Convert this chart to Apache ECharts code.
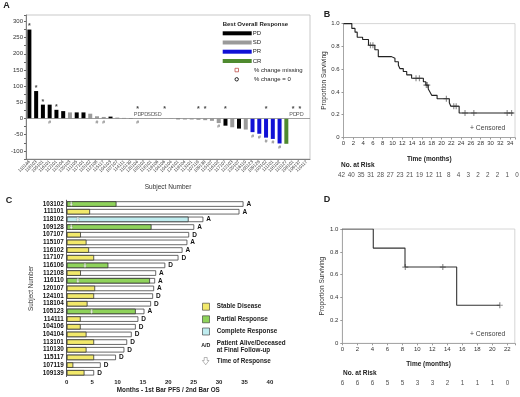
<!DOCTYPE html>
<html>
<head>
<meta charset="utf-8">
<script src="https://cdn.jsdelivr.net/npm/echarts@6/dist/echarts.min.js"></script>
<style>
html, body { margin: 0; padding: 0; background: #fff; }
#main { width: 520px; height: 397px; }
</style>
</head>
<body>
<div id="main"></div>
<script>
// ---- panel A: waterfall of best change from baseline ----
var subjectsA = ['110146','116103','105101','116101','112101','113104','120103','111105','117101','115102','112108','115117','104103','107107','114111','110130','120104','105102','118101','116106','104106','104104','124101','118104','113101','107119','109139','115107','116102','117107','112103','120107','116110','105123','109128','103102','111101','118102','110127','106101','109137','110117'];
var changeA = [275, 85, 43, 43, 27, 23, 19, 19, 19, 15, 7, 5, 6, 3, 2, 1, null, null, null, null, 0, -1, -2, -3, -3, -4, -5, -7, -14, -22, -27, -31, -34, -42, -47, -59, -63, -77, -78, null, null, null];
var responseA = ['PD','PD','PD','PD','PD','PD','SD','PD','PD','SD','SD','SD','PD','SD','SD','PD','PD','PD','SD','SD','SD','SD','PD','SD','SD','SD','SD','SD','SD','PD','SD','PD','SD','PR','PR','PR','PR','PR','CR','PD','PD',''];
var starA = [0, 1, 2, 4, 16, 20, 25, 26, 29, 35, 39, 40];
var hashA = [3, 10, 11, 16, 28, 33, 34, 35, 36, 37];
var typesA = ['PD', 'SD', 'PR', 'CR'];

// ---- panel B: Kaplan-Meier, all patients ----
var timeB = [0, 1.7, 2.35, 2.8, 3.9, 5.1, 6.4, 7.1, 9.8, 10.5, 11.2, 11.5, 12.2, 12.9, 13.9, 16.3, 16.8, 17.3, 17.7, 18.0, 19.1, 21.6, 21.9, 23.6, 34.7];
var survB = [1, 0.958, 0.925, 0.88, 0.86, 0.81, 0.77, 0.71, 0.695, 0.665, 0.635, 0.605, 0.58, 0.55, 0.52, 0.49, 0.46, 0.425, 0.395, 0.37, 0.34, 0.305, 0.275, 0.215, 0.215];
var censorB = [5.5, 6.0, 14.8, 15.5, 16.9, 17.1, 21.0, 22.5, 23.0, 24.8, 26.6, 33.4, 34.3];
var riskTimesB = [0, 2, 4, 6, 8, 10, 12, 14, 16, 18, 20, 22, 24, 26, 28, 30, 32, 34, 36];
var atRiskB = [42, 40, 35, 31, 28, 27, 23, 21, 19, 12, 11, 8, 4, 3, 2, 2, 2, 1, 0];

// ---- panel C: swimmer plot ----
var subjectsC = ['103102','111101','118102','109128','107107','115107','116102','117107','116106','112108','116110','120107','124101','118104','105123','114111','104106','104104','113101','110130','115117','107119','109139'];
var pfsC = [9.8, 4.6, 24.0, 16.7, 2.8, 3.9, 4.4, 5.4, 8.2, 2.8, 16.4, 5.6, 5.4, 4.1, 13.6, 2.75, 2.75, 3.9, 5.4, 3.9, 5.4, 1.3, 3.5];
var osC = [34.8, 34.0, 26.9, 25.1, 24.1, 23.75, 22.8, 22.0, 19.4, 17.6, 17.4, 17.2, 17.0, 16.6, 15.3, 14.1, 13.6, 12.8, 11.9, 11.35, 9.7, 6.7, 5.4];
var bestC = ['PR','SD','CR','PR','SD','SD','SD','SD','PR','SD','PR','SD','SD','SD','PR','SD','SD','SD','SD','SD','SD','SD','SD'];
var statusC = ['A','A','A','A','D','A','A','D','D','A','A','A','D','D','A','D','D','D','D','D','D','D','D'];
var respTimeC = [0.9, null, 2.2, 0.9, null, null, null, null, 3.6, null, 2.2, null, null, null, 4.9, null, null, null, null, null, null, null, null];

// ---- panel D: Kaplan-Meier, subgroup ----
var timeD = [0, 4.13, 8.36, 15.25, 21.0];
var survD = [1, 0.833, 0.667, 0.333, 0.333];
var censorD = [8.4, 13.4, 21.0];
var riskTimesD = [0, 2, 4, 6, 8, 10, 12, 14, 16, 18, 20, 22];
var atRiskD = [6, 6, 6, 5, 5, 3, 3, 2, 1, 1, 1, 0];

var FONT = 'Liberation Sans';
var colorsA = { PD: '#000000', SD: '#9a9a9a', PR: '#1010d6', CR: '#4f8a2f' };
var colorsC = { SD: '#f2e96b', PR: '#8fd35b', CR: '#bfecef' };
var plusPath = 'path://M4,0h2v4h4v2h-4v4h-2v-4h-4v-2h4z';
var arrowPath = 'path://M3,0h4v6h3l-5,6l-5,-6h3z';

function stepAt(times, surv, t) {
  var s = surv[0];
  for (var i = 0; i < times.length; i++) { if (times[i] <= t) s = surv[i]; }
  return s;
}
function pairs(xs, ys) { return xs.map(function (x, i) { return [x, ys[i]]; }); }

var tick = { fontSize: 6, color: '#333', fontFamily: FONT };
var thinAxis = { lineStyle: { color: '#999', width: 0.8 } };
var kmY = function (v) { return v === 0 ? '0' : v.toFixed(1); };

var chart = echarts.init(document.getElementById('main'));

var series = [];
typesA.forEach(function (t, k) {
  var s = {
    type: 'bar', name: t, xAxisIndex: 0, yAxisIndex: 0, stack: 'resp', barWidth: 4,
    itemStyle: { color: colorsA[t] },
    data: changeA.map(function (v, i) { return (responseA[i] === t && v !== null) ? v : '-'; })
  };
  if (k === 0) {
    s.markLine = { silent: true, symbol: ['none', 'none'], label: { show: false },
      lineStyle: { color: '#888', width: 0.8, type: 'solid' }, data: [{ yAxis: 0 }] };
  }
  series.push(s);
});
// response text for subjects without a % change
series.push({
  type: 'scatter', xAxisIndex: 0, yAxisIndex: 0, symbolSize: 1, itemStyle: { color: 'transparent' },
  data: changeA.map(function (v, i) { return (v === null && responseA[i]) ? [i, 0] : null; }).filter(Boolean),
  label: { show: true, position: 'top', distance: 1, fontSize: 5.5, color: '#333', fontFamily: FONT,
    formatter: function (p) { return responseA[p.data[0]]; } }
});
series.push({
  type: 'scatter', xAxisIndex: 0, yAxisIndex: 0, symbolSize: 1, itemStyle: { color: 'transparent' },
  data: starA.map(function (i) {
    var v = changeA[i];
    return { value: [i, v > 0 ? v : 0], label: { distance: v > 0 ? -1 : 5 } };
  }),
  label: { show: true, position: 'top', fontSize: 7, fontWeight: 'bold', color: '#111', fontFamily: FONT, formatter: '*' }
});
series.push({
  type: 'scatter', xAxisIndex: 0, yAxisIndex: 0, symbolSize: 1, itemStyle: { color: 'transparent' },
  data: hashA.map(function (i) { var v = changeA[i]; return [i, v < 0 ? v : 0]; }),
  label: { show: true, position: 'bottom', distance: 1, fontSize: 5, color: '#555', fontFamily: FONT, formatter: '#' }
});

// B
series.push({ type: 'line', xAxisIndex: 1, yAxisIndex: 1, step: 'end', symbol: 'none',
  lineStyle: { color: '#222', width: 1.1 }, data: pairs(timeB, survB) });
series.push({ type: 'scatter', xAxisIndex: 1, yAxisIndex: 1, symbol: plusPath, symbolSize: 6,
  itemStyle: { color: '#777' },
  data: censorB.map(function (t) { return [t, stepAt(timeB, survB, t)]; }) });
series.push({ type: 'scatter', xAxisIndex: 2, yAxisIndex: 2, symbolSize: 1, clip: false,
  itemStyle: { color: 'transparent' }, data: riskTimesB.map(function (t) { return [t, 0.5]; }),
  label: { show: true, position: 'inside', fontSize: 6.3, color: '#222', fontFamily: FONT,
    formatter: function (p) { return atRiskB[p.dataIndex]; } } });

// C
series.push({ type: 'bar', xAxisIndex: 3, yAxisIndex: 3, barWidth: 5.5, data: osC,
  itemStyle: { color: '#fff', borderColor: '#444', borderWidth: 0.8 },
  label: { show: true, position: 'right', distance: 3, fontSize: 6.5, fontWeight: 'bold', color: '#111',
    fontFamily: FONT, formatter: function (p) { return statusC[p.dataIndex]; } } });
series.push({ type: 'bar', xAxisIndex: 3, yAxisIndex: 3, barWidth: 5.5, barGap: '-100%',
  itemStyle: { borderColor: '#333', borderWidth: 0.8 },
  data: pfsC.map(function (v, i) { return { value: v, itemStyle: { color: colorsC[bestC[i]] } }; }) });
series.push({ type: 'scatter', xAxisIndex: 3, yAxisIndex: 3, symbol: arrowPath, symbolSize: [3.5, 4.5],
  itemStyle: { color: '#fff', borderColor: '#888', borderWidth: 0.4 }, z: 5,
  data: respTimeC.map(function (t, i) { return t === null ? null : [t, i]; }).filter(Boolean) });

// D
series.push({ type: 'line', xAxisIndex: 4, yAxisIndex: 4, step: 'end', symbol: 'none',
  lineStyle: { color: '#333', width: 1.1 }, data: pairs(timeD, survD) });
series.push({ type: 'scatter', xAxisIndex: 4, yAxisIndex: 4, symbol: plusPath, symbolSize: 6,
  itemStyle: { color: '#777' },
  data: censorD.map(function (t) { return [t, stepAt(timeD, survD, t)]; }) });
series.push({ type: 'scatter', xAxisIndex: 5, yAxisIndex: 5, symbolSize: 1, clip: false,
  itemStyle: { color: 'transparent' }, data: riskTimesD.map(function (t) { return [t, 0.5]; }),
  label: { show: true, position: 'inside', fontSize: 6.3, color: '#222', fontFamily: FONT,
    formatter: function (p) { return atRiskD[p.dataIndex]; } } });

function txt(x, y, text, font, extra) {
  var st = { text: text, font: font || ('6px ' + FONT), fill: '#222', align: 'left', verticalAlign: 'middle' };
  for (var k in (extra || {})) st[k] = extra[k];
  return { type: 'text', x: x, y: y, style: st, z: 10 };
}
var graphics = [
  txt(6.5, 5.5, 'A', 'bold 9px ' + FONT, { align: 'center' }),
  txt(327, 15, 'B', 'bold 9px ' + FONT, { align: 'center' }),
  txt(9, 200.5, 'C', 'bold 9px ' + FONT, { align: 'center' }),
  txt(327, 200, 'D', 'bold 9px ' + FONT, { align: 'center' }),
  // legend A
  txt(222.7, 24, 'Best Overall Response', 'bold 6px ' + FONT),
  txt(254, 70, '% change missing'),
  txt(254, 79.3, '% change = 0'),
  { type: 'rect', shape: { x: 235, y: 68.3, width: 3.5, height: 3.5 }, style: { fill: '#fff', stroke: '#c0504d', lineWidth: 0.8 }, z: 10 },
  { type: 'circle', shape: { cx: 236.7, cy: 79.3, r: 1.7 }, style: { fill: '#fff', stroke: '#222', lineWidth: 1 }, z: 10 },
  // B / D extras
  txt(470, 127.7, '+ Censored', '6.8px ' + FONT, { fill: '#444' }),
  txt(341, 165.7, 'No. at Risk', 'bold 6.5px ' + FONT),
  txt(470, 334.3, '+ Censored', '6.8px ' + FONT, { fill: '#444' }),
  txt(343, 373.3, 'No. at Risk', 'bold 6.5px ' + FONT),
  // legend C
  txt(216.7, 306.7, 'Stable Disease', 'bold 6.3px ' + FONT),
  txt(216.7, 319.3, 'Partial Response', 'bold 6.3px ' + FONT),
  txt(216.7, 331.5, 'Complete Response', 'bold 6.3px ' + FONT),
  txt(205.7, 345.7, 'A/D', 'bold 5.3px ' + FONT, { align: 'center' }),
  txt(216.7, 342.8, 'Patient Alive/Deceased', 'bold 6.3px ' + FONT),
  txt(216.7, 350, 'at Final Follow-up', 'bold 6.3px ' + FONT),
  txt(216.7, 361.3, 'Time of Response', 'bold 6.3px ' + FONT),
  { type: 'polygon', shape: { points: [[204.2, 357.5], [207.2, 357.5], [207.2, 360.5], [209, 360.5], [205.7, 364.8], [202.4, 360.5], [204.2, 360.5]] },
    style: { fill: '#fff', stroke: '#888', lineWidth: 0.6 }, z: 10 }
];
[['SD', 306.7], ['PR', 319.3], ['CR', 331.5]].forEach(function (e) {
  graphics.push({ type: 'rect', shape: { x: 202.5, y: e[1] - 3.5, width: 7, height: 7 },
    style: { fill: colorsC[e[0]], stroke: '#333', lineWidth: 0.6 }, z: 10 });
});
typesA.forEach(function (t, k) {
  var y = [33.3, 42.5, 51.7, 61][k];
  graphics.push({ type: 'rect', shape: { x: 222.7, y: y - 2, width: 29, height: 4 }, style: { fill: colorsA[t] }, z: 10 });
  graphics.push(txt(252.7, y, t));
});

chart.setOption({
  animation: false,
  backgroundColor: '#fff',
  textStyle: { fontFamily: FONT },
  grid: [
    { left: 26, top: 15, width: 284, height: 144, show: true, borderColor: '#bbb', borderWidth: 0.8, outerBoundsMode: 'none' },
    { left: 343.5, top: 23.6, width: 171.5, height: 113.9, show: true, borderColor: '#ccc', borderWidth: 0.8, outerBoundsMode: 'none' },
    { left: 341.5, top: 170, width: 175.5, height: 10, outerBoundsMode: 'none' },
    { left: 66.7, top: 200.2, width: 203.2, height: 176.4, outerBoundsMode: 'none' },
    { left: 342.3, top: 229, width: 172.5, height: 114.3, show: true, borderColor: '#ccc', borderWidth: 0.8, outerBoundsMode: 'none' },
    { left: 342.5, top: 378, width: 165, height: 10, outerBoundsMode: 'none' }
  ],
  xAxis: [
    { gridIndex: 0, type: 'category', data: subjectsA,
      axisLine: { onZero: false, lineStyle: { color: '#666', width: 0.8 } },
      axisTick: { alignWithLabel: true, length: 2, lineStyle: { color: '#666' } },
      axisLabel: { interval: 0, rotate: 45, fontSize: 4.5, margin: 2, color: '#333', fontFamily: FONT },
      name: 'Subject Number', nameLocation: 'middle', nameGap: 25,
      nameTextStyle: { fontSize: 6.5, color: '#333', fontFamily: FONT } },
    { gridIndex: 1, type: 'value', min: 0, max: 35, interval: 2, splitLine: { show: false },
      axisLine: thinAxis, axisTick: { length: 2, lineStyle: { color: '#999' } },
      axisLabel: { fontSize: 6, color: '#333', fontFamily: FONT, margin: 3,
        formatter: function (v) { return (v % 2 === 0 && v <= 34) ? v : ''; } },
      name: 'Time (months)', nameLocation: 'middle', nameGap: 18,
      nameTextStyle: { fontSize: 6.5, fontWeight: 'bold', color: '#222', fontFamily: FONT } },
    { gridIndex: 2, type: 'value', min: 0, max: 36, show: false },
    { gridIndex: 3, type: 'value', min: 0, max: 40, interval: 5, splitLine: { show: false },
      axisLine: { lineStyle: { color: '#333', width: 0.8 } }, axisTick: { length: 2, lineStyle: { color: '#333' } },
      axisLabel: { fontSize: 6, fontWeight: 'bold', color: '#222', fontFamily: FONT, margin: 3 },
      name: 'Months - 1st Bar PFS / 2nd Bar OS', nameLocation: 'middle', nameGap: 11,
      nameTextStyle: { fontSize: 6.3, fontWeight: 'bold', color: '#222', fontFamily: FONT } },
    { gridIndex: 4, type: 'value', min: 0, max: 23, interval: 2, splitLine: { show: false },
      axisLine: thinAxis, axisTick: { length: 2, lineStyle: { color: '#999' } },
      axisLabel: { fontSize: 6, color: '#333', fontFamily: FONT, margin: 3,
        formatter: function (v) { return (v % 2 === 0 && v <= 22) ? v : ''; } },
      name: 'Time (months)', nameLocation: 'middle', nameGap: 17,
      nameTextStyle: { fontSize: 6.5, fontWeight: 'bold', color: '#222', fontFamily: FONT } },
    { gridIndex: 5, type: 'value', min: 0, max: 22, show: false }
  ],
  yAxis: [
    { gridIndex: 0, type: 'value', min: -125, max: 320, interval: 25, splitLine: { show: false },
      axisLine: { show: true, lineStyle: { color: '#666', width: 0.8 } }, axisTick: { show: true, length: 2, lineStyle: { color: '#666' } },
      axisLabel: { fontSize: 6, color: '#333', fontFamily: FONT, margin: 3,
        formatter: function (v) { return (v % 50 === 0 && v <= 300 && v >= -100) ? v : ''; } },
      name: 'Change from Baseline (%)', nameLocation: 'middle', nameGap: 17,
      nameTextStyle: { fontSize: 6.5, color: '#333', fontFamily: FONT } },
    { gridIndex: 1, type: 'value', min: 0, max: 1, interval: 0.2, splitLine: { show: false },
      axisLine: { show: true, lineStyle: { color: '#999', width: 0.8 } }, axisTick: { show: true, length: 2, lineStyle: { color: '#999' } },
      axisLabel: { fontSize: 6, color: '#333', fontFamily: FONT, margin: 4, formatter: kmY },
      name: 'Proportion Surviving', nameLocation: 'middle', nameGap: 14,
      nameTextStyle: { fontSize: 6.5, color: '#333', fontFamily: FONT } },
    { gridIndex: 2, type: 'value', min: 0, max: 1, show: false },
    { gridIndex: 3, type: 'category', data: subjectsC, inverse: true,
      axisLine: { lineStyle: { color: '#333', width: 0.8 } }, axisTick: { alignWithLabel: true, length: 2, lineStyle: { color: '#333' } },
      axisLabel: { interval: 0, fontSize: 6.3, fontWeight: 'bold', color: '#111', fontFamily: FONT, margin: 3 },
      name: 'Subject Number', nameLocation: 'middle', nameGap: 32,
      nameTextStyle: { fontSize: 6.3, color: '#333', fontFamily: FONT } },
    { gridIndex: 4, type: 'value', min: 0, max: 1, interval: 0.2, splitLine: { show: false },
      axisLine: { show: true, lineStyle: { color: '#999', width: 0.8 } }, axisTick: { show: true, length: 2, lineStyle: { color: '#999' } },
      axisLabel: { fontSize: 6, color: '#333', fontFamily: FONT, margin: 4, formatter: kmY },
      name: 'Proportion Surviving', nameLocation: 'middle', nameGap: 16,
      nameTextStyle: { fontSize: 6.5, color: '#333', fontFamily: FONT } },
    { gridIndex: 5, type: 'value', min: 0, max: 1, show: false }
  ],
  series: series,
  graphic: graphics
});
</script>
</body>
</html>
